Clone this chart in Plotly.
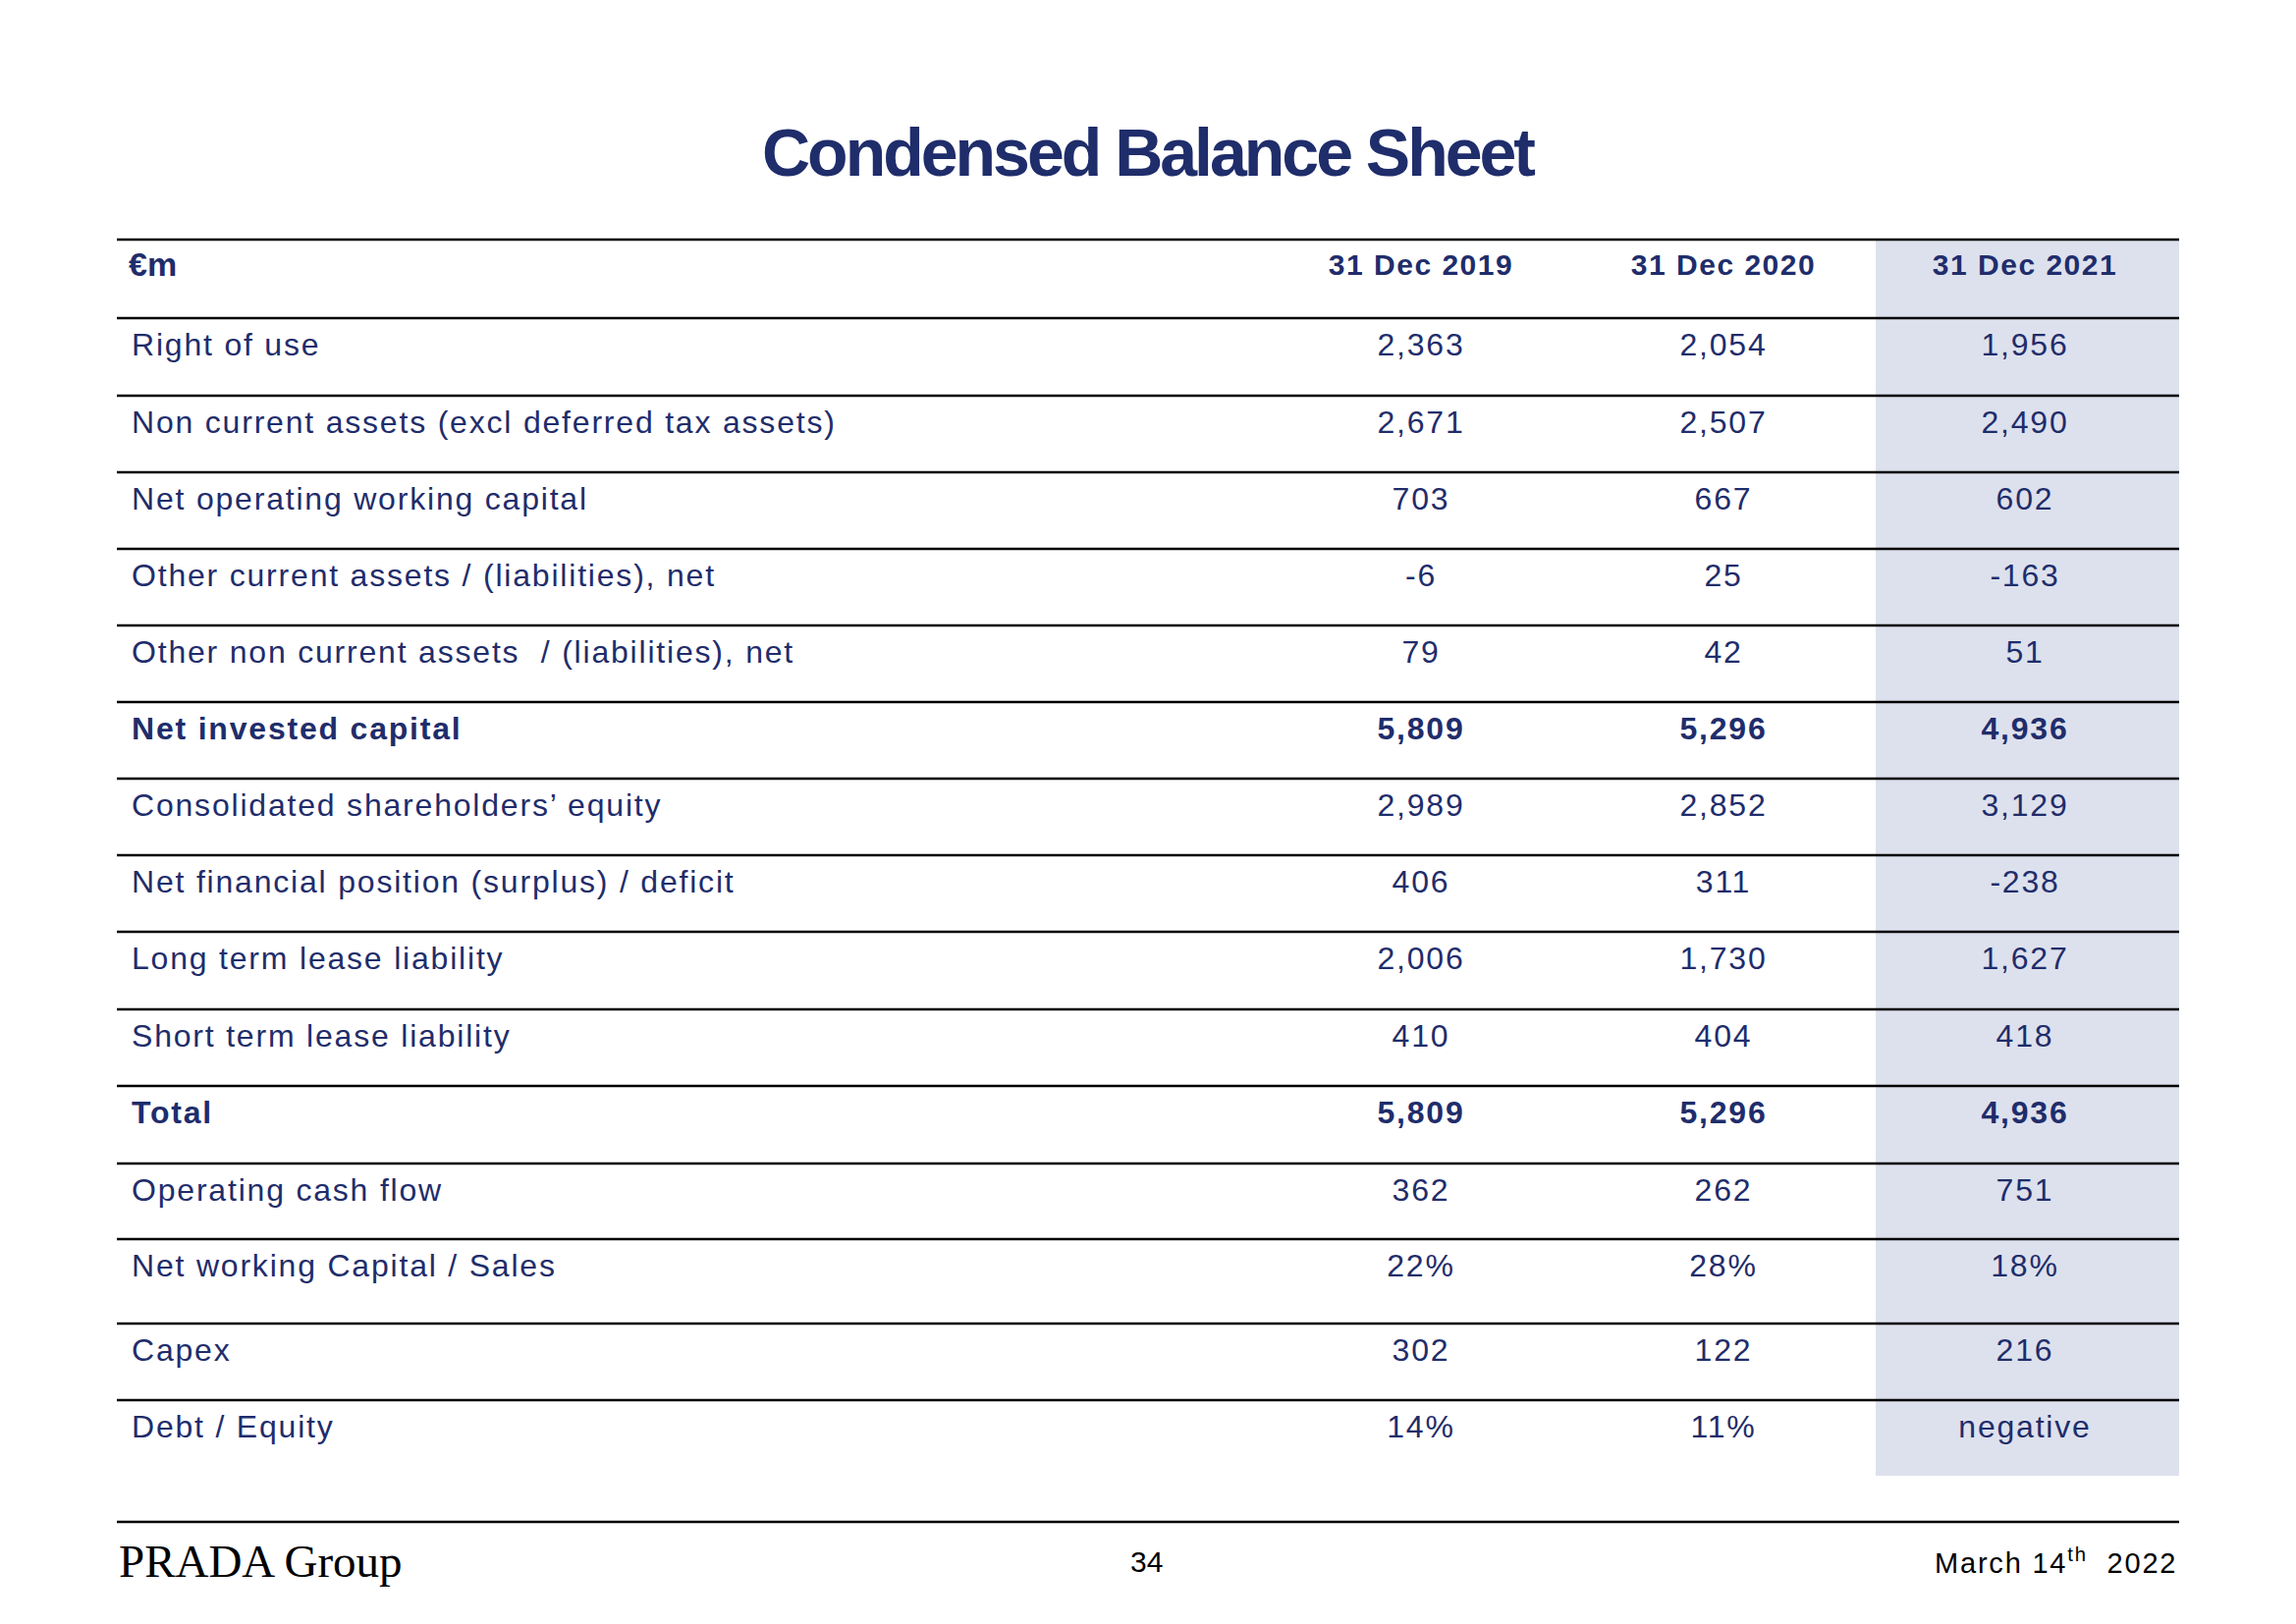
"""Condensed balance sheet slide rebuilt as a Plotly figure."""
import plotly.graph_objects as go

# ---- data -----------------------------------------------------------------
PERIODS = ["31 Dec 2019", "31 Dec 2020", "31 Dec 2021"]
ROW_LABELS = [
    "Right of use",
    "Non current assets (excl deferred tax assets)",
    "Net operating working capital",
    "Other current assets / (liabilities), net",
    "Other non current assets  / (liabilities), net",
    "Net invested capital",
    "Consolidated shareholders’ equity",
    "Net financial position (surplus) / deficit",
    "Long term lease liability",
    "Short term lease liability",
    "Total",
    "Operating cash flow",
    "Net working Capital / Sales",
    "Capex",
    "Debt / Equity",
]
VALUES_2019 = ["2,363", "2,671", "703", "-6", "79", "5,809", "2,989", "406",
               "2,006", "410", "5,809", "362", "22%", "302", "14%"]
VALUES_2020 = ["2,054", "2,507", "667", "25", "42", "5,296", "2,852", "311",
               "1,730", "404", "5,296", "262", "28%", "122", "11%"]
VALUES_2021 = ["1,956", "2,490", "602", "-163", "51", "4,936", "3,129", "-238",
               "1,627", "418", "4,936", "751", "18%", "216", "negative"]
BOLD_ROWS = {"Net invested capital", "Total"}

# ---- layout (pixel units of the slide) -----------------------------------
W, H = 2338, 1654
PAD = 8  # page body margin around the plot div
NAVY = "#1f2d6b"
SHADE = "#dde1ed"
FONT = "Liberation Sans, Arial, sans-serif"
X_LEFT, X_RIGHT = 119, 2219
X_LABEL = 134
X_COLS = [1447, 1755, 2062]
SHADE_X0 = 1910
HEADER_TOP, HEADER_H = 244, 80
ROW_H = [79, 78, 78, 78, 78, 78, 78, 78, 79, 78, 79, 77, 86, 78, 77]
TEXT_OFFSET = 30
FOOTER_LINE, FOOTER_Y = 1550, 1590


def spaced(text, bold=False, px=1.8):
    inner = f"<b>{text}</b>" if bold else text
    return f"<span style='letter-spacing:{px}px'>{inner}</span>"


# row boundaries from heights
bounds = [HEADER_TOP, HEADER_TOP + HEADER_H]
for h in ROW_H:
    bounds.append(bounds[-1] + h)
row_tops = bounds[1:-1]
text_y = [t + TEXT_OFFSET for t in row_tops]
header_y = HEADER_TOP + 28

fig = go.Figure()

# labels
fig.add_trace(go.Scatter(
    x=[X_LABEL] * len(ROW_LABELS), y=text_y, mode="text",
    text=[spaced(lbl, lbl in BOLD_ROWS) for lbl in ROW_LABELS],
    textposition="middle right",
    textfont=dict(family=FONT, size=32, color=NAVY),
    hoverinfo="skip", showlegend=False,
))

# values per period
for xc, vals in zip(X_COLS, [VALUES_2019, VALUES_2020, VALUES_2021]):
    fig.add_trace(go.Scatter(
        x=[xc] * len(vals), y=text_y, mode="text",
        text=[spaced(v, lbl in BOLD_ROWS) for v, lbl in zip(vals, ROW_LABELS)],
        textposition="middle center",
        textfont=dict(family=FONT, size=32, color=NAVY),
        hoverinfo="skip", showlegend=False,
    ))

# header row
fig.add_trace(go.Scatter(
    x=[X_LABEL - 3], y=[header_y], mode="text",
    text=["<b>€m</b>"], textposition="middle right",
    textfont=dict(family=FONT, size=34, color=NAVY),
    hoverinfo="skip", showlegend=False,
))
fig.add_trace(go.Scatter(
    x=X_COLS, y=[header_y] * len(PERIODS), mode="text",
    text=[spaced(p, True, 1.5) for p in PERIODS],
    textposition="middle center",
    textfont=dict(family=FONT, size=30, color=NAVY),
    hoverinfo="skip", showlegend=False,
))

# shaded latest column
fig.add_shape(type="rect", xref="x", yref="y", x0=SHADE_X0, x1=X_RIGHT,
              y0=HEADER_TOP, y1=bounds[-1], fillcolor=SHADE, line_width=0,
              layer="below")
# horizontal rules
for b in bounds[:-1] + [FOOTER_LINE]:
    fig.add_shape(type="line", xref="x", yref="y", x0=X_LEFT, x1=X_RIGHT,
                  y0=b, y1=b, line=dict(color="black", width=2.5))

# title & footer
fig.add_annotation(x=1169, y=155, xref="x", yref="y", showarrow=False,
                   text="<span style='letter-spacing:-3px'><b>Condensed Balance Sheet</b></span>",
                   font=dict(family=FONT, size=68, color=NAVY))
fig.add_annotation(x=X_LEFT, y=FOOTER_Y, xref="x", yref="y", showarrow=False,
                   xanchor="left", text="PRADA Group",
                   font=dict(family="Liberation Serif, Times New Roman, serif",
                             size=47, color="black"))
fig.add_annotation(x=1167, y=FOOTER_Y, xref="x", yref="y", showarrow=False,
                   text="34", font=dict(family=FONT, size=30, color="black"))
fig.add_annotation(x=X_RIGHT, y=FOOTER_Y, xref="x", yref="y", showarrow=False,
                   xanchor="right",
                   text=spaced("March 14<sup>th</sup>  2022", px=1.8),
                   font=dict(family=FONT, size=29, color="black"))

fig.update_layout(
    width=W - 2 * PAD, height=H - 2 * PAD,
    margin=dict(l=0, r=0, t=0, b=0),
    paper_bgcolor="white", plot_bgcolor="white",
    xaxis=dict(range=[PAD, W - PAD], visible=False, fixedrange=True),
    yaxis=dict(range=[H - PAD, PAD], visible=False, fixedrange=True),
)

fig.write_html("out.html")
